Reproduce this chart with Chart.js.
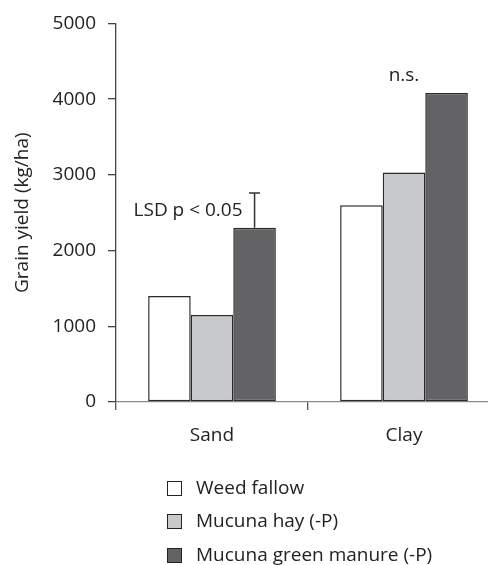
<!DOCTYPE html>
<html>
<head>
<meta charset="utf-8">
<script src="https://cdn.jsdelivr.net/npm/chart.js@4/dist/chart.umd.min.js"></script>
<style>
html,body{margin:0;padding:0;overflow:hidden;background:#fff;width:488px;height:565px;}
canvas{display:block;}
</style>
</head>
<body>
<canvas id="c" width="500" height="565"></canvas>
<script>
const categories = ["Sand", "Clay"];
const seriesNames = ["Weed fallow", "Mucuna hay (-P)", "Mucuna green manure (-P)"];
const weedFallow = [1400, 2600];
const mucunaHay = [1150, 3030];
const mucunaGreen = [2300, 4080];
const lsdSand = 460;
const yTicks = [0, 1000, 2000, 3000, 4000, 5000];
const annotations = ["LSD p < 0.05", "n.s."];

const FONT = "'Open Sans', sans-serif";
const FS = 19;
const fills = ["#ffffff", "#c8c9cb", "#636365"];

const extras = {
  id: "extras",
  afterDatasetsDraw(chart) {
    const ctx = chart.ctx;
    const ys = chart.scales.y;
    const xs = chart.scales.x;
    const bar = chart.getDatasetMeta(2).data[0];
    const yTop = ys.getPixelForValue(mucunaGreen[0] + lsdSand);
    ctx.save();
    ctx.strokeStyle = "#333";
    ctx.lineWidth = 1.5;
    ctx.beginPath();
    ctx.moveTo(bar.x, bar.y);
    ctx.lineTo(bar.x, yTop);
    ctx.moveTo(bar.x - 5.5, yTop);
    ctx.lineTo(bar.x + 5.5, yTop);
    ctx.stroke();
    ctx.fillStyle = "#222";
    ctx.font = FS + "px " + FONT;
    ctx.textBaseline = "middle";
    ctx.textAlign = "right";
    ctx.fillText(annotations[0], bar.x - 12, yTop + 18);
    const bar2 = chart.getDatasetMeta(2).data[1];
    ctx.textAlign = "center";
    ctx.fillText(annotations[1], xs.getPixelForValue(1), bar2.y - 17);
    ctx.textAlign = "left";
    const rows = [489, 522, 556];
    chart.data.datasets.forEach((ds, i) => {
      ctx.fillStyle = ds.backgroundColor;
      ctx.fillRect(167.5, rows[i] - 7.5, 14, 14);
      ctx.strokeStyle = "#222";
      ctx.lineWidth = 1;
      ctx.strokeRect(167.5, rows[i] - 7.5, 14, 14);
      ctx.fillStyle = "#222";
      ctx.fillText(ds.label, 196, rows[i]);
    });
    ctx.restore();
  }
};

new Chart(document.getElementById("c"), {
  type: "bar",
  data: {
    labels: categories,
    datasets: [
      { label: seriesNames[0], data: weedFallow, backgroundColor: fills[0] },
      { label: seriesNames[1], data: mucunaHay, backgroundColor: fills[1] },
      { label: seriesNames[2], data: mucunaGreen, backgroundColor: fills[2] }
    ].map(d => Object.assign(d, { borderColor: "#2a2a2a", borderWidth: 1.5, borderSkipped: false }))
  },
  options: {
    responsive: false,
    animation: false,
    devicePixelRatio: 1,
    layout: { padding: { top: 22, left: 0, right: 0, bottom: 0 } },
    datasets: { bar: { categoryPercentage: 0.665, barPercentage: 1.0 } },
    plugins: { legend: { display: false }, tooltip: { enabled: false } },
    scales: {
      x: {
        offset: true,
        afterFit(s) { s.height = 163; },
        border: { color: "#8a8a8a", width: 1.3 },
        grid: { offset: true, drawOnChartArea: false, tickLength: 8, color: "#555", lineWidth: 1.3 },
        ticks: { padding: 14, color: "#222", font: { family: FONT, size: FS } }
      },
      y: {
        min: 0, max: 5000,
        afterFit(s) { s.width = 116; },
        afterBuildTicks(s) { s.ticks = yTicks.map(v => ({ value: v })); },
        border: { color: "#444", width: 1.3 },
        grid: { drawOnChartArea: false, tickLength: 8, color: "#444", lineWidth: 1.3 },
        ticks: { padding: 12, color: "#222", font: { family: FONT, size: FS }, callback: v => String(v) },
        title: { display: true, text: "Grain yield (kg/ha)", color: "#222", font: { family: FONT, size: FS }, padding: { top: 11, bottom: 0 } }
      }
    }
  },
  plugins: [extras]
});
</script>
</body>
</html>
